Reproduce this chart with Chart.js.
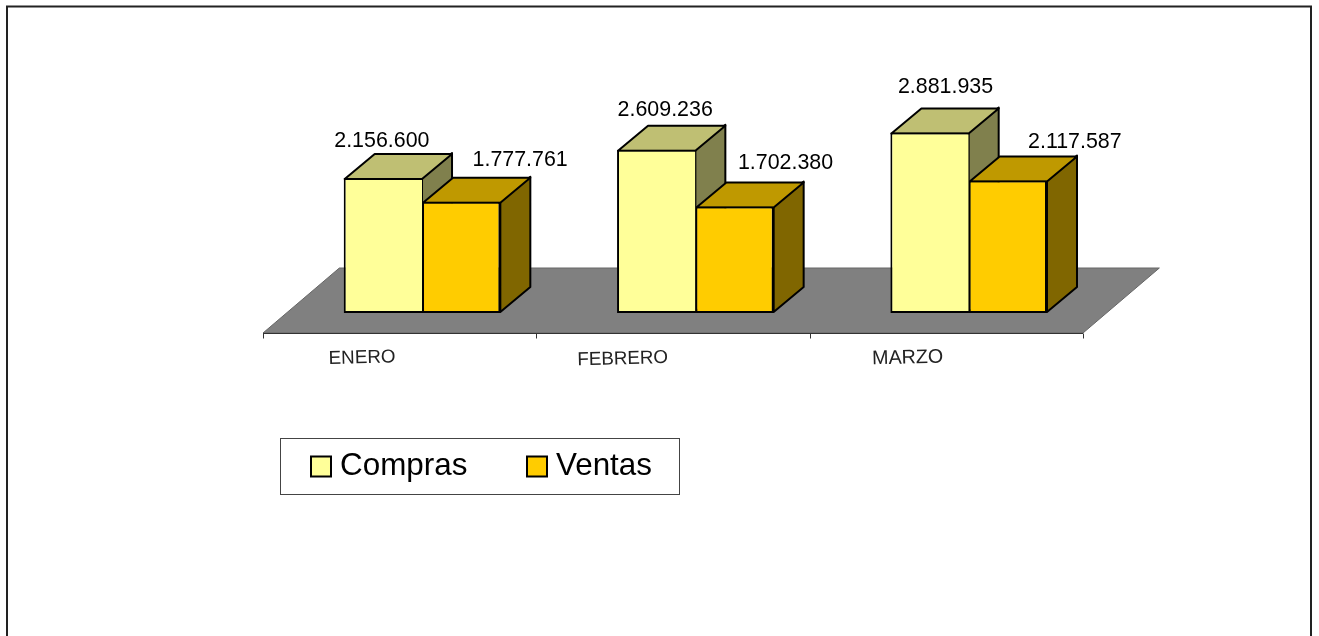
<!DOCTYPE html>
<html>
<head>
<meta charset="utf-8">
<title>Compras y Ventas</title>
<script src="https://cdn.jsdelivr.net/npm/chart.js@4"></script>
<style>
  html, body { margin: 0; padding: 0; background: #fff; overflow: hidden; }
  canvas { display: block; }
</style>
</head>
<body>
<canvas id="grafico" width="1319" height="636"></canvas>
<script>
// Datos
const meses = ["ENERO", "FEBRERO", "MARZO"];
const compras = [2156600, 2609236, 2881935];
const ventas = [1777761, 1702380, 2117587];

const colorCompras = "#FFFF99";
const colorVentas = "#FFCC00";
const fuente = "'Liberation Sans', Arial, sans-serif";

// Profundidad de cada barra y del piso, respecto al plano de las barras
const fondoBarra = { x: 30, y: -25 };
const pisoFrente = { x: -22.35, y: 20 };
const pisoFondo = { x: 54, y: -45 };

// Ajuste manual de las etiquetas, igual que en el original
const ajusteValores = [
  [[-1, -37], [59, -42]],
  [[9, -40], [51, -43]],
  [[16, -45], [67, -38]]
];
// desplazamiento x, y y tamano de cada mes
const ajusteMeses = [[-37.6, 25, 18.8], [-50.3, 26, 18.8], [-38.6, 25, 19.7]];

function oscurecer(hex, f) {
  const n = parseInt(hex.slice(1), 16);
  const r = Math.round((n >> 16 & 255) * f);
  const g = Math.round((n >> 8 & 255) * f);
  const b = Math.round((n & 255) * f);
  return `rgb(${r},${g},${b})`;
}

function poligono(ctx, pts, relleno, linea, grosor) {
  ctx.beginPath();
  pts.forEach((p, i) => i ? ctx.lineTo(p[0], p[1]) : ctx.moveTo(p[0], p[1]));
  ctx.closePath();
  ctx.fillStyle = relleno;
  ctx.fill();
  ctx.lineWidth = grosor;
  ctx.strokeStyle = linea;
  ctx.lineJoin = "round";
  ctx.stroke();
}

function formatear(v) {
  return String(v).replace(/\B(?=(\d{3})+$)/g, ".");
}

const grafico3d = {
  id: "grafico3d",
  beforeDatasetsDraw(chart) {
    const ctx = chart.ctx;
    const xs = chart.scales.x;
    const base = chart.scales.y.getPixelForValue(0);
    const izq = xs.left, der = xs.right;

    ctx.save();
    // marco exterior (abierto por abajo)
    ctx.beginPath();
    ctx.moveTo(7, 636);
    ctx.lineTo(7, 6.5);
    ctx.lineTo(1311, 6.5);
    ctx.lineTo(1311, 636);
    ctx.lineWidth = 2;
    ctx.strokeStyle = "#222";
    ctx.stroke();

    // piso
    poligono(ctx, [
      [izq + pisoFrente.x, base + pisoFrente.y],
      [der + pisoFrente.x, base + pisoFrente.y],
      [der + pisoFondo.x, base + pisoFondo.y],
      [izq + pisoFondo.x, base + pisoFondo.y]
    ], "#808080", "#666", 1);

    // eje de categorias y marcas
    const yEje = base + pisoFrente.y + 0.5;
    ctx.beginPath();
    ctx.moveTo(izq + pisoFrente.x, yEje);
    ctx.lineTo(der + pisoFrente.x, yEje);
    const paso = (der - izq) / meses.length;
    for (let i = 0; i <= meses.length; i++) {
      const x = Math.round(izq + pisoFrente.x + paso * i) + 0.5;
      ctx.moveTo(x, yEje);
      ctx.lineTo(x, yEje + 5);
    }
    ctx.lineWidth = 1;
    ctx.strokeStyle = "#333";
    ctx.stroke();

    // caras superior y lateral, las de Compras primero
    chart.data.datasets.forEach((ds, d) => {
      chart.getDatasetMeta(d).data.forEach(bar => {
        const l = bar.x - bar.width / 2, r = bar.x + bar.width / 2;
        const t = bar.y, b = bar.base;
        const fx = fondoBarra.x, fy = fondoBarra.y;
        poligono(ctx, [[r, b - 1], [r + fx, b - 1 + fy], [r + fx, t + fy], [r, t]],
          oscurecer(ds.backgroundColor, 0.5), "#000", 2);
        poligono(ctx, [[l + 1, t + 1], [l + 1 + fx, t + 1 + fy], [r + fx, t + 1 + fy], [r, t + 1]],
          oscurecer(ds.backgroundColor, 0.75), "#000", 2);
      });
    });
    ctx.restore();
  },
  afterDatasetsDraw(chart) {
    const ctx = chart.ctx;
    const xs = chart.scales.x;
    const base = chart.scales.y.getPixelForValue(0);
    ctx.save();

    // valores sobre las barras
    ctx.font = "21.4px " + fuente;
    ctx.fillStyle = "#000";
    ctx.textAlign = "center";
    ctx.textBaseline = "middle";
    chart.data.datasets.forEach((ds, d) => {
      chart.getDatasetMeta(d).data.forEach((bar, i) => {
        const aj = ajusteValores[i][d];
        ctx.fillText(formatear(ds.data[i]), bar.x + aj[0], bar.y + aj[1]);
      });
    });

    // nombres de los meses, levemente inclinados
    ctx.fillStyle = "#222";
    meses.forEach((m, i) => {
      const aj = ajusteMeses[i];
      ctx.save();
      ctx.font = aj[2] + "px " + fuente;
      ctx.translate(xs.getPixelForTick(i) + pisoFrente.x + aj[0], base + pisoFrente.y + aj[1]);
      ctx.rotate(-1.5 * Math.PI / 180);
      ctx.fillText(m, 0, 0);
      ctx.restore();
    });

    // leyenda
    ctx.lineWidth = 1;
    ctx.strokeStyle = "#444";
    ctx.strokeRect(280.5, 438.5, 399, 56);
    ctx.textAlign = "left";
    ctx.font = "31.4px " + fuente;
    const posLeyenda = [311, 527];
    chart.data.datasets.forEach((ds, d) => {
      const x = posLeyenda[d];
      ctx.fillStyle = ds.backgroundColor;
      ctx.fillRect(x, 456.5, 20, 20);
      ctx.lineWidth = 2;
      ctx.strokeStyle = "#000";
      ctx.strokeRect(x, 456.5, 20, 20);
      ctx.fillStyle = "#000";
      ctx.fillText(ds.label, x + 29, 466);
    });
    ctx.restore();
  }
};

new Chart(document.getElementById("grafico"), {
  type: "bar",
  data: {
    labels: meses,
    datasets: [
      { label: "Compras", data: compras, backgroundColor: colorCompras, borderSkipped: "right" },
      { label: "Ventas", data: ventas, backgroundColor: colorVentas, borderSkipped: false }
    ]
  },
  options: {
    responsive: false,
    animation: false,
    layout: { padding: { left: 285.35, right: 213.65, top: 62.6, bottom: 323 } },
    datasets: {
      bar: { categoryPercentage: 0.573, barPercentage: 1, borderWidth: 2, borderColor: "#000" }
    },
    scales: {
      x: { display: false },
      y: { display: false, min: 0, max: 4000000 }
    },
    plugins: {
      legend: { display: false },
      tooltip: { enabled: false }
    }
  },
  plugins: [grafico3d]
});
</script>
</body>
</html>
